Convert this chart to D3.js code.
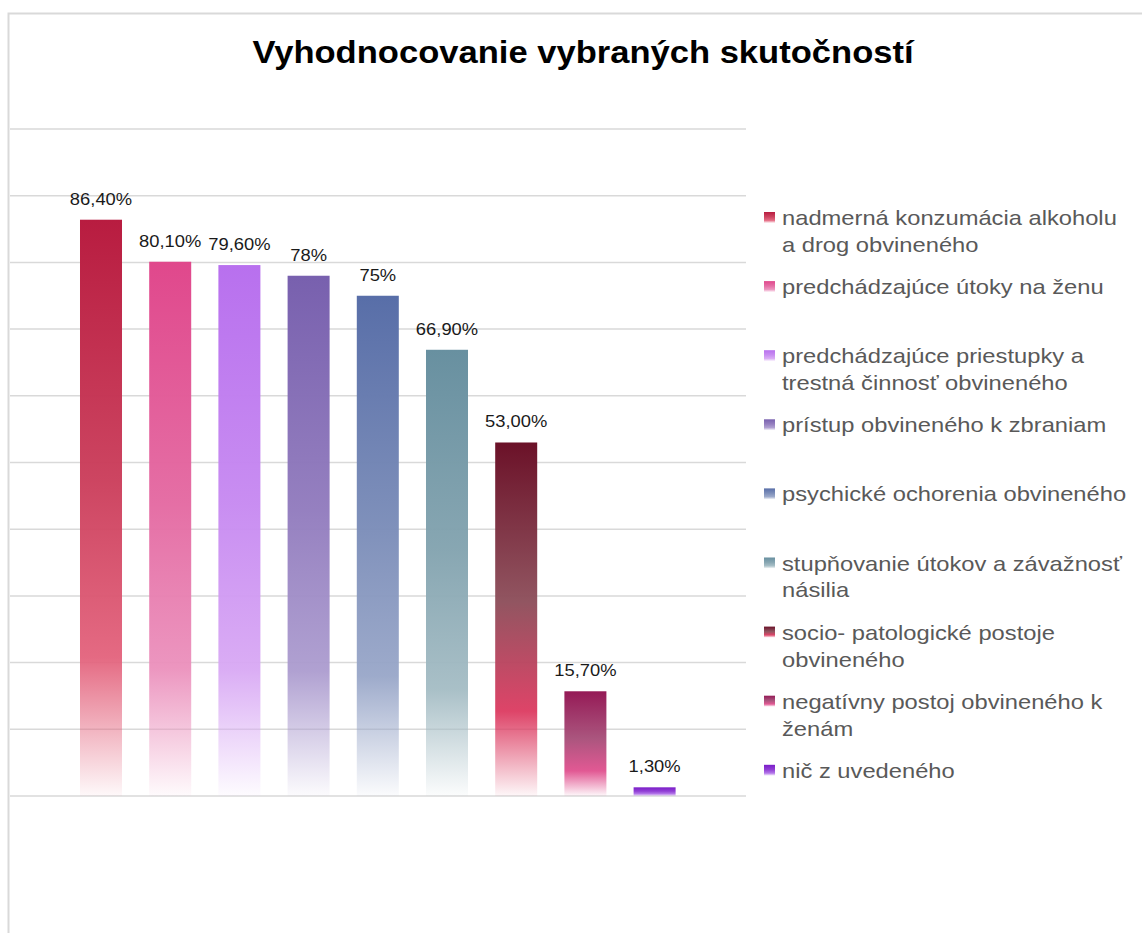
<!DOCTYPE html>
<html>
<head>
<meta charset="utf-8">
<script src="https://cdn.jsdelivr.net/npm/d3@7"></script>
<style>
  body { margin: 0; background: #fff; }
  svg text { font-family: "Liberation Sans", Arial, sans-serif; }
</style>
</head>
<body>
<div id="chart"></div>
<script>
// categories and values
const categories = [
  "nadmerná konzumácia alkoholu a drog obvineného",
  "predchádzajúce útoky na ženu",
  "predchádzajúce priestupky a trestná činnosť obvineného",
  "prístup obvineného k zbraniam",
  "psychické ochorenia obvineného",
  "stupňovanie útokov a závažnosť násilia",
  "socio- patologické postoje obvineného",
  "negatívny postoj obvineného k ženám",
  "nič z uvedeného"
];
const values = [86.4, 80.1, 79.6, 78, 75, 66.9, 53.0, 15.7, 1.3];
const valueLabels = ["86,40%", "80,10%", "79,60%", "78%", "75%", "66,90%", "53,00%", "15,70%", "1,30%"];
const yTicks = [0, 10, 20, 30, 40, 50, 60, 70, 80, 90, 100];

// gradient colours: top, middle, bright band
const topColors    = ["#b81c40", "#e0488c", "#b870ee", "#7860ae", "#586ea8", "#6890a0", "#6b1128", "#951a56", "#7a1cc8"];
const midColors    = ["#cb3f5c", "#e46aa2", "#c78af1", "#927cbe", "#7a8cb8", "#84a4b0", "#8e505c", "#a8507a", "#8e3ad4"];
const brightColors = ["#e3627c", "#eb90bc", "#d8a8f4", "#ac9ccf", "#98a6c8", "#a4bcc4", "#dc3a60", "#e0508e", "#b070e8"];

const W = 1142, H = 933;
const svg = d3.select("#chart").append("svg")
    .attr("width", W)
    .attr("height", H);

const defs = svg.append("defs");
categories.forEach((c, i) => {
  const g = defs.append("linearGradient")
      .attr("id", "grad" + i)
      .attr("x1", 0).attr("y1", 0).attr("x2", 0).attr("y2", 1);
  const stops = [
    {o: "0%", c: topColors[i], a: 1},
    {o: "45%", c: midColors[i], a: 0.97},
    {o: "76%", c: brightColors[i], a: 0.95},
    {o: "100%", c: brightColors[i], a: 0.04}
  ];
  g.selectAll("stop").data(stops).join("stop")
      .attr("offset", d => d.o)
      .attr("stop-color", d => d.c)
      .attr("stop-opacity", d => d.a);
});

// outer border of chart area
svg.append("path")
    .attr("d", `M8.5,${H} V13.5 H${W}`)
    .attr("fill", "none")
    .attr("stroke", "#d9d9d9")
    .attr("stroke-width", 2);

// title
const sxTitle = 1.08;
svg.append("text")
    .attr("transform", `translate(583,63) scale(${sxTitle},1)`)
    .attr("text-anchor", "middle")
    .style("font-size", "32px")
    .style("font-weight", "bold")
    .style("fill", "#000")
    .text("Vyhodnocovanie vybraných skutočností");

const x = d3.scaleBand()
    .domain(categories)
    .range([66.4, 689.2])
    .paddingInner(0.393)
    .paddingOuter(0.1965);

const y = d3.scaleLinear()
    .domain([0, 100])
    .range([796, 129]);

// gridlines
svg.append("g")
    .selectAll("line")
    .data(yTicks)
    .join("line")
    .attr("x1", 10)
    .attr("x2", 746)
    .attr("y1", d => y(d))
    .attr("y2", d => y(d))
    .attr("stroke", "#d9d9d9")
    .attr("stroke-width", 1.5);

// bars
svg.append("g")
    .selectAll("rect")
    .data(values)
    .join("rect")
    .attr("x", (d, i) => x(categories[i]))
    .attr("width", x.bandwidth())
    .attr("y", d => y(d))
    .attr("height", d => y(0) - y(d))
    .attr("fill", (d, i) => `url(#grad${i})`);

// data labels
const sxLab = 1.08;
svg.append("g")
    .selectAll("text")
    .data(values)
    .join("text")
    .attr("transform", (d, i) => `translate(${x(categories[i]) + x.bandwidth() / 2},${y(d) - 15}) scale(${sxLab},1)`)
    .attr("text-anchor", "middle")
    .style("font-size", "17px")
    .style("fill", "#1a1a1a")
    .text((d, i) => valueLabels[i]);

// legend
const sxLeg = 1.13;
const legTop = 218, legStep = 69.1, lineH = 27, maxW = 352 / sxLeg;
const leg = svg.append("g");
categories.forEach((c, i) => {
  const cy = legTop + i * legStep;
  leg.append("rect")
      .attr("x", 764)
      .attr("y", cy - 6)
      .attr("width", 11)
      .attr("height", 11)
      .attr("fill", `url(#grad${i})`);
  const t = leg.append("text")
      .attr("transform", `translate(782,${cy + 7}) scale(${sxLeg},1)`)
      .style("font-size", "21px")
      .style("fill", "#595959");
  // wrap words to the legend width
  const words = c.split(" ");
  let line = [], ln = 0;
  let ts = t.append("tspan").attr("x", 0).attr("dy", 0);
  words.forEach(w => {
    line.push(w);
    ts.text(line.join(" "));
    if (ts.node().getComputedTextLength() > maxW && line.length > 1) {
      line.pop();
      ts.text(line.join(" "));
      line = [w];
      ln++;
      ts = t.append("tspan").attr("x", 0).attr("dy", lineH).text(w);
    }
  });
});
</script>
</body>
</html>
